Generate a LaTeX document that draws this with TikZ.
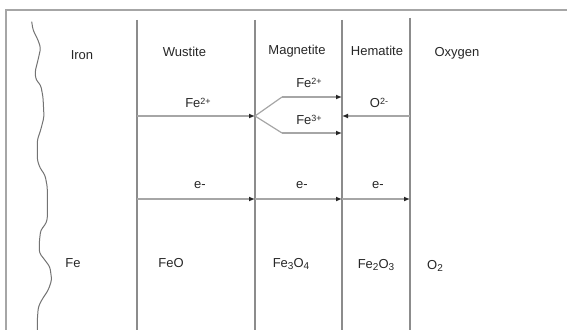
\documentclass[tikz,border=0pt]{standalone}
\usepackage{fontspec}
\setmainfont{Liberation Sans}
\usetikzlibrary{arrows.meta}
\newcommand{\supx}[1]{\raisebox{0.45ex}{\fontsize{9}{9}\selectfont #1}}
\newcommand{\subx}[1]{\raisebox{-0.25ex}{\fontsize{10}{10}\selectfont #1}}
\begin{document}
\begin{tikzpicture}[x=1pt,y=-1pt,
  lbl/.style={font=\fontsize{13}{14}\selectfont, text=black!85, inner sep=0pt},
  frame/.style={draw=black!35, line width=1.6pt},
  wall/.style={draw=black!45, line width=1.1pt},
  flow/.style={draw=black!35, line width=1.2pt, -{Latex[length=6pt,width=5pt,color=black!85]}},
  plain/.style={draw=black!35, line width=1.2pt}]
\useasboundingbox (0,0) rectangle (567,329);
% frame
\draw[frame] (6,330) -- (6,10) -- (568,10);
% wavy iron surface
\draw[draw=black!55, line width=1pt, rounded corners=3pt]
 (31.7,21.7) -- (33,30) -- (38,40) -- (40.7,48) -- (38,60) -- (35,72) -- (36,80)
 -- (40.7,85) -- (43,97) -- (44,117) -- (40.7,130) -- (37.3,140) -- (37.3,160)
 -- (40,168) -- (45,175) -- (47.3,187) -- (47.3,220) -- (45,225) -- (40.7,230)
 -- (39.3,242) -- (39.3,253) -- (43.3,258) -- (50,267) -- (51.7,280) -- (48.3,290)
 -- (41.7,300) -- (38.3,307) -- (37.3,320) -- (37.3,330);
% walls
\draw[wall] (137,20) -- (137,330);
\draw[wall] (255,20) -- (255,330);
\draw[wall] (342,20) -- (342,330);
\draw[wall] (410,18) -- (410,330);
% junction coordinates
\coordinate (a0) at (137,116);
\coordinate (a1) at (255,116);
\coordinate (b1) at (282,97);
\coordinate (b2) at (342,97);
\coordinate (c1) at (282,133);
\coordinate (c2) at (342,133);
\coordinate (o0) at (410,116);
\coordinate (o1) at (342,116);
\coordinate (e0) at (137,199);
\coordinate (e1) at (255,199);
\coordinate (e2) at (342,199);
\coordinate (e3) at (410,199);
% ion flows
\draw[flow] (a0) -- (a1);
\draw[plain] (a1) -- (b1);
\draw[flow] (b1) -- (b2);
\draw[plain] (a1) -- (c1);
\draw[flow] (c1) -- (c2);
\draw[flow] (o0) -- (o1);
% electron flows
\draw[flow] (e0) -- (e1);
\draw[flow] (e1) -- (e2);
\draw[flow] (e2) -- (e3);
% headings
\node[lbl] (iron) at (82,55) {Iron};
\node[lbl] (wus) at (184.5,52) {Wustite};
\node[lbl] (mag) at (297,51) {Magnetite};
\node[lbl,fill=white,inner sep=1pt] (hem) at (377,51) {Hematite};
\node[lbl] (oxy) at (457,53) {Oxygen};
% ions
\node[lbl] (fe2a) at (198,103) {Fe\supx{2+}};
\node[lbl] (fe2b) at (309,83) {Fe\supx{2+}};
\node[lbl] (fe3) at (309,120) {Fe\supx{3+}};
\node[lbl] (o2m) at (379,103) {O\supx{2-}};
% electrons
\node[lbl] (ea) at (200,185) {e-};
\node[lbl] (eb) at (302,185) {e-};
\node[lbl] (ec) at (378,185) {e-};
% phases
\node[lbl] (fe) at (73,263) {Fe};
\node[lbl] (feo) at (171,263) {FeO};
\node[lbl] (fe3o4) at (291,264) {Fe\subx{3}O\subx{4}};
\node[lbl] (fe2o3) at (376,265) {Fe\subx{2}O\subx{3}};
\node[lbl] (o2) at (435,266) {O\subx{2}};
\end{tikzpicture}
\end{document}
